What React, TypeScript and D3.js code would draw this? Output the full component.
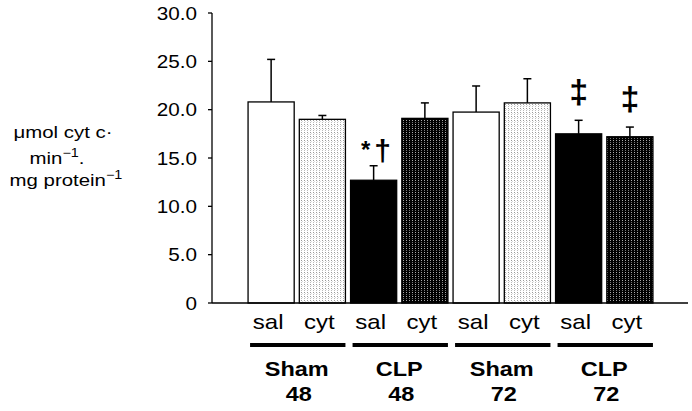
import React from 'react';
import * as d3 from 'd3';

const groups = ['Sham', 'CLP', 'Sham', 'CLP'];
const hours = ['48', '48', '72', '72'];
const treatments = ['sal', 'cyt'];
const means = [20.8, 19.0, 12.7, 19.1, 19.75, 20.7, 17.5, 17.2];
const errors = [4.4, 0.4, 1.5, 1.6, 2.7, 2.5, 1.4, 1.0];
const yTicks = [0, 5, 10, 15, 20, 25, 30];
const marks = [
    { bar: 2, symbol: '*†' },
    { bar: 6, symbol: '‡' },
    { bar: 7, symbol: '‡' },
];

const W = 692;
const H = 411;
const FONT = 'Liberation Sans, Arial, sans-serif';

// stretched text, the scan is a bit wider than plain Arial
const Txt: React.FC<{ x: number; y: number; size: number; sx?: number; bold?: boolean; anchor?: string; children: React.ReactNode }> =
    ({ x, y, size, sx = 1.2, bold, anchor = 'middle', children }) => (
        <text
            transform={`translate(${x},${y}) scale(${sx},1)`}
            fontSize={size}
            fontFamily={FONT}
            fontWeight={bold ? 'bold' : 'normal'}
            textAnchor={anchor}
            fill="#000"
        >
            {children}
        </text>
    );

const App: React.FC = () => {
    const keys = d3.range(means.length).map(String);
    const x = d3.scaleBand<string>().domain(keys).range([245.5, 655.5]).paddingInner(0.1).paddingOuter(0.05);
    const y = d3.scaleLinear().domain([0, 30]).range([303, 13]);
    const axisX = 212;
    const bw = x.bandwidth();

    const fillFor = (i: number) => {
        const clp = Math.floor(i / 2) % 2 === 1;
        const cyt = i % 2 === 1;
        if (!clp && !cyt) return '#fff';
        if (!clp && cyt) return 'url(#light)';
        if (clp && !cyt) return '#000';
        return 'url(#dark)';
    };

    return (
        <svg width={W} height={H} style={{ position: 'absolute', left: 0, top: 0, background: '#fff' }}>
            <defs>
                <pattern id="light" width={3} height={4} patternUnits="userSpaceOnUse">
                    <rect width={3} height={4} fill="#fff" />
                    <rect x={1} y={0} width={1} height={1} fill="#999" />
                    <rect x={1} y={2} width={1} height={1} fill="#bbb" />
                    <rect x={2} y={1} width={1} height={1} fill="#ddd" />
                </pattern>
                <pattern id="dark" width={3} height={4} patternUnits="userSpaceOnUse">
                    <rect width={3} height={4} fill="#000" />
                    <rect x={1} y={0} width={1} height={1} fill="#aaa" />
                    <rect x={1} y={2} width={1} height={1} fill="#777" />
                </pattern>
            </defs>

            {/* y axis */}
            <line x1={axisX} x2={axisX} y1={y(30)} y2={y(0)} stroke="#000" strokeWidth={1.3} />
            {yTicks.map(t => (
                <g key={t}>
                    <line x1={axisX - 4} x2={axisX} y1={y(t)} y2={y(t)} stroke="#000" strokeWidth={1.3} />
                    <Txt x={197} y={y(t) + 6.5} size={18} sx={1.15} anchor="end">
                        {t === 0 ? '0' : d3.format('.1f')(t)}
                    </Txt>
                </g>
            ))}

            {/* y label */}
            <Txt x={63} y={138} size={17} sx={1.2}>μmol cyt c·</Txt>
            <Txt x={57} y={164} size={17} sx={1.2}>
                min<tspan fontSize={12} dy={-7}>−1</tspan><tspan dy={7}>.</tspan>
            </Txt>
            <Txt x={66} y={186} size={17} sx={1.2}>
                mg protein<tspan fontSize={12} dy={-7}>−1</tspan>
            </Txt>

            {/* bars */}
            {means.map((m, i) => {
                const bx = x(String(i))!;
                const cx = bx + bw / 2;
                const top = y(m + errors[i]);
                return (
                    <g key={i}>
                        <line x1={cx} x2={cx} y1={y(m)} y2={top} stroke="#000" strokeWidth={1.5} />
                        <line x1={cx - 4} x2={cx + 4} y1={top} y2={top} stroke="#000" strokeWidth={1.5} />
                        <rect x={bx} y={y(m)} width={bw} height={y(0) - y(m)} fill={fillFor(i)} stroke="#000" strokeWidth={1.3} />
                    </g>
                );
            })}

            {/* baseline */}
            <line x1={axisX} x2={688} y1={y(0)} y2={y(0)} stroke="#000" strokeWidth={1.3} />

            {/* significance marks */}
            {marks.map(mk => {
                const cx = x(String(mk.bar))! + bw / 2;
                const top = y(means[mk.bar] + errors[mk.bar]);
                if (mk.symbol === '‡') {
                    return (
                        <Txt key={mk.bar} x={cx} y={top - 17} size={34} sx={1} bold>‡</Txt>
                    );
                }
                return (
                    <g key={mk.bar}>
                        <Txt x={cx - 8} y={top - 8} size={24} sx={1} bold>*</Txt>
                        <Txt x={cx + 9} y={top - 5} size={30} sx={1} bold>†</Txt>
                    </g>
                );
            })}

            {/* treatment labels */}
            {means.map((_, i) => (
                <Txt key={i} x={x(String(i))! + bw / 2 - 3} y={329} size={20} sx={1.2}>
                    {treatments[i % 2]}
                </Txt>
            ))}

            {/* group lines and labels */}
            {groups.map((g, gi) => {
                const x0 = x(String(gi * 2))!;
                const x1 = x(String(gi * 2 + 1))! + bw;
                const mid = (x0 + x1) / 2;
                return (
                    <g key={gi}>
                        <line x1={x0 + 2} x2={x1} y1={345} y2={345} stroke="#000" strokeWidth={3.8} />
                        <Txt x={mid} y={376} size={21} sx={1.12} bold>{g}</Txt>
                        <Txt x={mid + 2} y={401} size={21} sx={1.12} bold>{hours[gi]}</Txt>
                    </g>
                );
            })}
        </svg>
    );
};

export default App;
